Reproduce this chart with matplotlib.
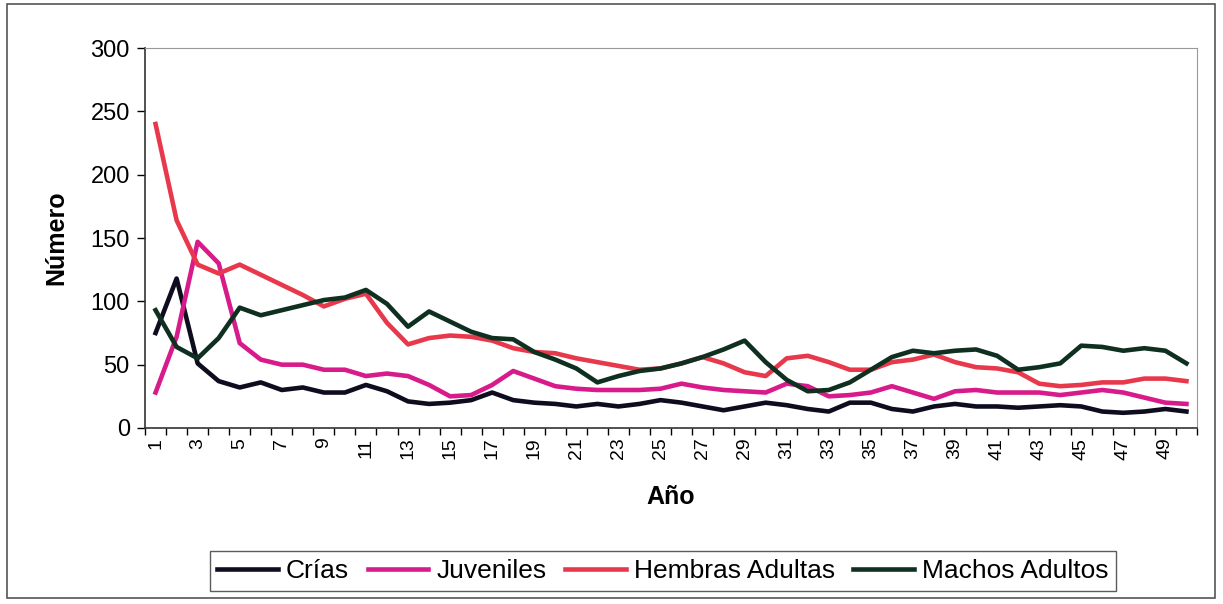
import matplotlib.pyplot as plt
from matplotlib.patches import Rectangle

# Datos
anios = list(range(1, 51))
crias = [75, 118, 51, 37, 32, 36, 30, 32, 28, 28,
         34, 29, 21, 19, 20, 22, 28, 22, 20, 19,
         17, 19, 17, 19, 22, 20, 17, 14, 17, 20,
         18, 15, 13, 20, 20, 15, 13, 17, 19, 17,
         17, 16, 17, 18, 17, 13, 12, 13, 15, 13]
juveniles = [28, 72, 147, 130, 67, 54, 50, 50, 46, 46,
             41, 43, 41, 34, 25, 26, 34, 45, 39, 33,
             31, 30, 30, 30, 31, 35, 32, 30, 29, 28,
             35, 33, 25, 26, 28, 33, 28, 23, 29, 30,
             28, 28, 28, 26, 28, 30, 28, 24, 20, 19]
hembras = [240, 164, 129, 122, 129, 121, 113, 105, 96, 102,
           106, 83, 66, 71, 73, 72, 69, 63, 60, 59,
           55, 52, 49, 46, 47, 51, 56, 51, 44, 41,
           55, 57, 52, 46, 46, 52, 54, 58, 52, 48,
           47, 44, 35, 33, 34, 36, 36, 39, 39, 37]
machos = [93, 64, 55, 71, 95, 89, 93, 97, 101, 103,
          109, 98, 80, 92, 84, 76, 71, 70, 60, 54,
          47, 36, 41, 45, 47, 51, 56, 62, 69, 52,
          38, 29, 30, 36, 46, 56, 61, 59, 61, 62,
          57, 46, 48, 51, 65, 64, 61, 63, 61, 51]

series = [
    ('Crías', crias, '#0d0d1f'),
    ('Juveniles', juveniles, '#d81b8a'),
    ('Hembras Adultas', hembras, '#e8384c'),
    ('Machos Adultos', machos, '#0f3020'),
]

plt.rcParams['font.family'] = ['Liberation Sans', 'DejaVu Sans']

fig = plt.figure(figsize=(12.23, 6.04), dpi=100)
fig.patches.append(Rectangle((7 / 1223, 6 / 604), 1208 / 1223, 594 / 604,
                             transform=fig.transFigure, fill=False,
                             edgecolor='#555555', linewidth=1.2))

ax = fig.add_axes([0.1186, 0.2914, 0.8601, 0.6291])

for nombre, valores, color in series:
    ax.plot(anios, valores, color=color, linewidth=3.3, label=nombre)

ax.set_xlim(0.5, 50.5)
ax.set_ylim(0, 300)
ax.set_yticks(range(0, 301, 50))
ax.tick_params(axis='y', labelsize=17, length=6, width=1, direction='out', pad=5)

ax.set_xticks(anios[::2])
ax.set_xticklabels([str(a) for a in anios[::2]], rotation=90, fontsize=14)
ax.set_xticks([a + 0.5 for a in range(0, 51)], minor=True)
ax.tick_params(axis='x', which='major', length=0, pad=7)
ax.tick_params(axis='x', which='minor', length=5, width=1, direction='out')

for lado in ['top', 'right']:
    ax.spines[lado].set_color('#999999')
    ax.spines[lado].set_linewidth(0.8)
for lado in ['left', 'bottom']:
    ax.spines[lado].set_color('#333333')
    ax.spines[lado].set_linewidth(1.2)

ax.set_xlabel('Año', fontsize=18, fontweight='bold', labelpad=18)
ax.set_ylabel('Número', fontsize=18, fontweight='bold', labelpad=16)

leg = fig.legend(loc='center', bbox_to_anchor=(0.542, 0.054), ncol=4,
                 fontsize=19, frameon=True, fancybox=False, handlelength=2.3,
                 handletextpad=0.3, columnspacing=0.7, borderpad=0.3)
leg.get_frame().set_edgecolor('#333333')
leg.get_frame().set_linewidth(1.0)

fig.savefig('out.png', dpi=100)
